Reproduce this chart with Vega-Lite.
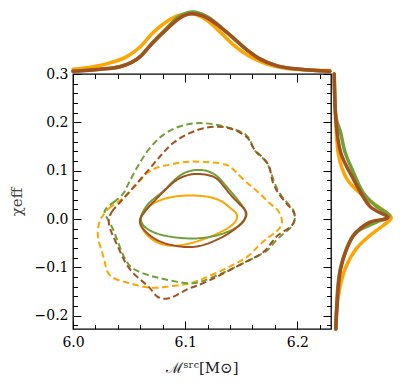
{
  "$schema": "https://vega.github.io/schema/vega-lite/v6.json",
  "padding": {"left": 8, "top": 5, "right": 5, "bottom": 5},
  "spacing": 0,
  "bounds": "flush",
  "config": {"view": {"stroke": null}, "font": "DejaVu Serif"},
  "datasets": {
    "contours": [
      {"r":"run1","lv":"50","i":0,"x":6.059,"y":0.000},{"r":"run1","lv":"50","i":1,"x":6.064,"y":0.0205},{"r":"run1","lv":"50","i":2,"x":6.074,"y":0.037},{"r":"run1","lv":"50","i":3,"x":6.089,"y":0.047},{"r":"run1","lv":"50","i":4,"x":6.104,"y":0.0495},{"r":"run1","lv":"50","i":5,"x":6.121,"y":0.047},{"r":"run1","lv":"50","i":6,"x":6.133,"y":0.038},{"r":"run1","lv":"50","i":7,"x":6.141,"y":0.0205},{"r":"run1","lv":"50","i":8,"x":6.147,"y":0.012},{"r":"run1","lv":"50","i":9,"x":6.146,"y":-0.007},{"r":"run1","lv":"50","i":10,"x":6.135,"y":-0.024},{"r":"run1","lv":"50","i":11,"x":6.121,"y":-0.038},{"r":"run1","lv":"50","i":12,"x":6.109,"y":-0.048},{"r":"run1","lv":"50","i":13,"x":6.095,"y":-0.0555},{"r":"run1","lv":"50","i":14,"x":6.083,"y":-0.0555},{"r":"run1","lv":"50","i":15,"x":6.074,"y":-0.048},{"r":"run1","lv":"50","i":16,"x":6.066,"y":-0.035},{"r":"run1","lv":"50","i":17,"x":6.060,"y":-0.014},
      {"r":"run1","lv":"90","i":0,"x":6.027,"y":0.007},{"r":"run1","lv":"90","i":1,"x":6.030,"y":0.021},{"r":"run1","lv":"90","i":2,"x":6.045,"y":0.041},{"r":"run1","lv":"90","i":3,"x":6.057,"y":0.072},{"r":"run1","lv":"90","i":4,"x":6.066,"y":0.097},{"r":"run1","lv":"90","i":5,"x":6.074,"y":0.107},{"r":"run1","lv":"90","i":6,"x":6.089,"y":0.114},{"r":"run1","lv":"90","i":7,"x":6.104,"y":0.1205},{"r":"run1","lv":"90","i":8,"x":6.124,"y":0.117},{"r":"run1","lv":"90","i":9,"x":6.138,"y":0.114},{"r":"run1","lv":"90","i":10,"x":6.144,"y":0.100},{"r":"run1","lv":"90","i":11,"x":6.153,"y":0.079},{"r":"run1","lv":"90","i":12,"x":6.162,"y":0.062},{"r":"run1","lv":"90","i":13,"x":6.170,"y":0.045},{"r":"run1","lv":"90","i":14,"x":6.177,"y":0.028},{"r":"run1","lv":"90","i":15,"x":6.183,"y":0.0205},{"r":"run1","lv":"90","i":16,"x":6.188,"y":-0.007},{"r":"run1","lv":"90","i":17,"x":6.183,"y":-0.024},{"r":"run1","lv":"90","i":18,"x":6.174,"y":-0.038},{"r":"run1","lv":"90","i":19,"x":6.165,"y":-0.0555},{"r":"run1","lv":"90","i":20,"x":6.156,"y":-0.0795},{"r":"run1","lv":"90","i":21,"x":6.144,"y":-0.093},{"r":"run1","lv":"90","i":22,"x":6.129,"y":-0.111},{"r":"run1","lv":"90","i":23,"x":6.115,"y":-0.124},{"r":"run1","lv":"90","i":24,"x":6.104,"y":-0.135},{"r":"run1","lv":"90","i":25,"x":6.089,"y":-0.138},{"r":"run1","lv":"90","i":26,"x":6.074,"y":-0.144},{"r":"run1","lv":"90","i":27,"x":6.060,"y":-0.1395},{"r":"run1","lv":"90","i":28,"x":6.048,"y":-0.131},{"r":"run1","lv":"90","i":29,"x":6.036,"y":-0.124},{"r":"run1","lv":"90","i":30,"x":6.030,"y":-0.111},{"r":"run1","lv":"90","i":31,"x":6.028,"y":-0.083},{"r":"run1","lv":"90","i":32,"x":6.024,"y":-0.0555},{"r":"run1","lv":"90","i":33,"x":6.021,"y":-0.028},{"r":"run1","lv":"90","i":34,"x":6.024,"y":0.000},
      {"r":"run2","lv":"50","i":0,"x":6.059,"y":0.000},{"r":"run2","lv":"50","i":1,"x":6.064,"y":0.024},{"r":"run2","lv":"50","i":2,"x":6.071,"y":0.041},{"r":"run2","lv":"50","i":3,"x":6.080,"y":0.055},{"r":"run2","lv":"50","i":4,"x":6.088,"y":0.076},{"r":"run2","lv":"50","i":5,"x":6.098,"y":0.0965},{"r":"run2","lv":"50","i":6,"x":6.110,"y":0.103},{"r":"run2","lv":"50","i":7,"x":6.121,"y":0.100},{"r":"run2","lv":"50","i":8,"x":6.129,"y":0.089},{"r":"run2","lv":"50","i":9,"x":6.135,"y":0.072},{"r":"run2","lv":"50","i":10,"x":6.144,"y":0.048},{"r":"run2","lv":"50","i":11,"x":6.150,"y":0.031},{"r":"run2","lv":"50","i":12,"x":6.155,"y":0.014},{"r":"run2","lv":"50","i":13,"x":6.153,"y":-0.007},{"r":"run2","lv":"50","i":14,"x":6.144,"y":-0.021},{"r":"run2","lv":"50","i":15,"x":6.129,"y":-0.035},{"r":"run2","lv":"50","i":16,"x":6.109,"y":-0.042},{"r":"run2","lv":"50","i":17,"x":6.089,"y":-0.038},{"r":"run2","lv":"50","i":18,"x":6.074,"y":-0.031},{"r":"run2","lv":"50","i":19,"x":6.063,"y":-0.017},
      {"r":"run2","lv":"90","i":0,"x":6.028,"y":0.021},{"r":"run2","lv":"90","i":1,"x":6.036,"y":0.034},{"r":"run2","lv":"90","i":2,"x":6.045,"y":0.050},{"r":"run2","lv":"90","i":3,"x":6.049,"y":0.072},{"r":"run2","lv":"90","i":4,"x":6.057,"y":0.107},{"r":"run2","lv":"90","i":5,"x":6.067,"y":0.145},{"r":"run2","lv":"90","i":6,"x":6.080,"y":0.176},{"r":"run2","lv":"90","i":7,"x":6.095,"y":0.193},{"r":"run2","lv":"90","i":8,"x":6.110,"y":0.200},{"r":"run2","lv":"90","i":9,"x":6.127,"y":0.1965},{"r":"run2","lv":"90","i":10,"x":6.144,"y":0.186},{"r":"run2","lv":"90","i":11,"x":6.155,"y":0.176},{"r":"run2","lv":"90","i":12,"x":6.159,"y":0.159},{"r":"run2","lv":"90","i":13,"x":6.161,"y":0.141},{"r":"run2","lv":"90","i":14,"x":6.171,"y":0.124},{"r":"run2","lv":"90","i":15,"x":6.176,"y":0.103},{"r":"run2","lv":"90","i":16,"x":6.179,"y":0.076},{"r":"run2","lv":"90","i":17,"x":6.185,"y":0.048},{"r":"run2","lv":"90","i":18,"x":6.195,"y":0.024},{"r":"run2","lv":"90","i":19,"x":6.198,"y":0.014},{"r":"run2","lv":"90","i":20,"x":6.198,"y":-0.011},{"r":"run2","lv":"90","i":21,"x":6.189,"y":-0.028},{"r":"run2","lv":"90","i":22,"x":6.180,"y":-0.045},{"r":"run2","lv":"90","i":23,"x":6.174,"y":-0.066},{"r":"run2","lv":"90","i":24,"x":6.165,"y":-0.076},{"r":"run2","lv":"90","i":25,"x":6.153,"y":-0.090},{"r":"run2","lv":"90","i":26,"x":6.138,"y":-0.107},{"r":"run2","lv":"90","i":27,"x":6.124,"y":-0.121},{"r":"run2","lv":"90","i":28,"x":6.107,"y":-0.137},{"r":"run2","lv":"90","i":29,"x":6.089,"y":-0.128},{"r":"run2","lv":"90","i":30,"x":6.074,"y":-0.121},{"r":"run2","lv":"90","i":31,"x":6.060,"y":-0.111},{"r":"run2","lv":"90","i":32,"x":6.051,"y":-0.100},{"r":"run2","lv":"90","i":33,"x":6.046,"y":-0.083},{"r":"run2","lv":"90","i":34,"x":6.040,"y":-0.048},{"r":"run2","lv":"90","i":35,"x":6.036,"y":-0.021},{"r":"run2","lv":"90","i":36,"x":6.031,"y":0.000},{"r":"run2","lv":"90","i":37,"x":6.028,"y":0.012},
      {"r":"run3","lv":"50","i":0,"x":6.058,"y":-0.004},{"r":"run3","lv":"50","i":1,"x":6.063,"y":0.012},{"r":"run3","lv":"50","i":2,"x":6.068,"y":0.027},{"r":"run3","lv":"50","i":3,"x":6.080,"y":0.055},{"r":"run3","lv":"50","i":4,"x":6.092,"y":0.083},{"r":"run3","lv":"50","i":5,"x":6.104,"y":0.093},{"r":"run3","lv":"50","i":6,"x":6.113,"y":0.094},{"r":"run3","lv":"50","i":7,"x":6.127,"y":0.089},{"r":"run3","lv":"50","i":8,"x":6.133,"y":0.072},{"r":"run3","lv":"50","i":9,"x":6.141,"y":0.048},{"r":"run3","lv":"50","i":10,"x":6.150,"y":0.027},{"r":"run3","lv":"50","i":11,"x":6.156,"y":0.014},{"r":"run3","lv":"50","i":12,"x":6.153,"y":-0.004},{"r":"run3","lv":"50","i":13,"x":6.141,"y":-0.028},{"r":"run3","lv":"50","i":14,"x":6.127,"y":-0.045},{"r":"run3","lv":"50","i":15,"x":6.109,"y":-0.061},{"r":"run3","lv":"50","i":16,"x":6.089,"y":-0.0555},{"r":"run3","lv":"50","i":17,"x":6.074,"y":-0.045},{"r":"run3","lv":"50","i":18,"x":6.063,"y":-0.024},
      {"r":"run3","lv":"90","i":0,"x":6.033,"y":0.007},{"r":"run3","lv":"90","i":1,"x":6.034,"y":0.014},{"r":"run3","lv":"90","i":2,"x":6.038,"y":0.025},{"r":"run3","lv":"90","i":3,"x":6.043,"y":0.037},{"r":"run3","lv":"90","i":4,"x":6.054,"y":0.066},{"r":"run3","lv":"90","i":5,"x":6.068,"y":0.103},{"r":"run3","lv":"90","i":6,"x":6.079,"y":0.134},{"r":"run3","lv":"90","i":7,"x":6.089,"y":0.159},{"r":"run3","lv":"90","i":8,"x":6.104,"y":0.179},{"r":"run3","lv":"90","i":9,"x":6.118,"y":0.190},{"r":"run3","lv":"90","i":10,"x":6.135,"y":0.193},{"r":"run3","lv":"90","i":11,"x":6.150,"y":0.179},{"r":"run3","lv":"90","i":12,"x":6.158,"y":0.165},{"r":"run3","lv":"90","i":13,"x":6.161,"y":0.141},{"r":"run3","lv":"90","i":14,"x":6.170,"y":0.1275},{"r":"run3","lv":"90","i":15,"x":6.176,"y":0.107},{"r":"run3","lv":"90","i":16,"x":6.177,"y":0.079},{"r":"run3","lv":"90","i":17,"x":6.182,"y":0.055},{"r":"run3","lv":"90","i":18,"x":6.192,"y":0.027},{"r":"run3","lv":"90","i":19,"x":6.198,"y":0.014},{"r":"run3","lv":"90","i":20,"x":6.198,"y":-0.007},{"r":"run3","lv":"90","i":21,"x":6.192,"y":-0.021},{"r":"run3","lv":"90","i":22,"x":6.183,"y":-0.031},{"r":"run3","lv":"90","i":23,"x":6.177,"y":-0.048},{"r":"run3","lv":"90","i":24,"x":6.171,"y":-0.069},{"r":"run3","lv":"90","i":25,"x":6.159,"y":-0.083},{"r":"run3","lv":"90","i":26,"x":6.147,"y":-0.097},{"r":"run3","lv":"90","i":27,"x":6.133,"y":-0.114},{"r":"run3","lv":"90","i":28,"x":6.121,"y":-0.128},{"r":"run3","lv":"90","i":29,"x":6.109,"y":-0.1395},{"r":"run3","lv":"90","i":30,"x":6.101,"y":-0.145},{"r":"run3","lv":"90","i":31,"x":6.092,"y":-0.159},{"r":"run3","lv":"90","i":32,"x":6.083,"y":-0.167},{"r":"run3","lv":"90","i":33,"x":6.074,"y":-0.162},{"r":"run3","lv":"90","i":34,"x":6.070,"y":-0.145},{"r":"run3","lv":"90","i":35,"x":6.063,"y":-0.131},{"r":"run3","lv":"90","i":36,"x":6.054,"y":-0.114},{"r":"run3","lv":"90","i":37,"x":6.046,"y":-0.090},{"r":"run3","lv":"90","i":38,"x":6.040,"y":-0.056},{"r":"run3","lv":"90","i":39,"x":6.034,"y":-0.028},{"r":"run3","lv":"90","i":40,"x":6.031,"y":-0.004}
    ],
    "top": [
      {"r":"run1","x":6.000,"d":0.075},{"r":"run1","x":6.018,"d":0.118},{"r":"run1","x":6.033,"d":0.18},{"r":"run1","x":6.048,"d":0.28},{"r":"run1","x":6.060,"d":0.44},{"r":"run1","x":6.071,"d":0.66},{"r":"run1","x":6.083,"d":0.84},{"r":"run1","x":6.095,"d":0.95},{"r":"run1","x":6.106,"d":0.97},{"r":"run1","x":6.119,"d":0.87},{"r":"run1","x":6.131,"d":0.68},{"r":"run1","x":6.143,"d":0.47},{"r":"run1","x":6.155,"d":0.31},{"r":"run1","x":6.173,"d":0.16},{"r":"run1","x":6.191,"d":0.09},{"r":"run1","x":6.211,"d":0.065},{"r":"run1","x":6.229,"d":0.055},
      {"r":"run2","x":6.000,"d":0.045},{"r":"run2","x":6.024,"d":0.078},{"r":"run2","x":6.042,"d":0.12},{"r":"run2","x":6.060,"d":0.285},{"r":"run2","x":6.071,"d":0.51},{"r":"run2","x":6.083,"d":0.73},{"r":"run2","x":6.095,"d":0.93},{"r":"run2","x":6.107,"d":1.0},{"r":"run2","x":6.119,"d":0.93},{"r":"run2","x":6.131,"d":0.77},{"r":"run2","x":6.143,"d":0.58},{"r":"run2","x":6.155,"d":0.39},{"r":"run2","x":6.167,"d":0.24},{"r":"run2","x":6.182,"d":0.13},{"r":"run2","x":6.202,"d":0.076},{"r":"run2","x":6.229,"d":0.045},
      {"r":"run3","x":6.000,"d":0.045},{"r":"run3","x":6.024,"d":0.076},{"r":"run3","x":6.042,"d":0.118},{"r":"run3","x":6.060,"d":0.28},{"r":"run3","x":6.071,"d":0.50},{"r":"run3","x":6.083,"d":0.71},{"r":"run3","x":6.095,"d":0.90},{"r":"run3","x":6.106,"d":0.97},{"r":"run3","x":6.119,"d":0.91},{"r":"run3","x":6.131,"d":0.76},{"r":"run3","x":6.143,"d":0.58},{"r":"run3","x":6.155,"d":0.39},{"r":"run3","x":6.167,"d":0.24},{"r":"run3","x":6.182,"d":0.13},{"r":"run3","x":6.202,"d":0.076},{"r":"run3","x":6.229,"d":0.045}
    ],
    "right": [
      {"r":"run1","y":0.3,"d":0.05},{"r":"run1","y":0.2,"d":0.075},{"r":"run1","y":0.131,"d":0.12},{"r":"run1","y":0.0826,"d":0.25},{"r":"run1","y":0.048,"d":0.5},{"r":"run1","y":0.024,"d":0.755},{"r":"run1","y":0.0033,"d":0.94},{"r":"run1","y":-0.014,"d":0.81},{"r":"run1","y":-0.035,"d":0.60},{"r":"run1","y":-0.0623,"d":0.39},{"r":"run1","y":-0.097,"d":0.24},{"r":"run1","y":-0.138,"d":0.145},{"r":"run1","y":-0.1865,"d":0.09},{"r":"run1","y":-0.2275,"d":0.075},
      {"r":"run2","y":0.3,"d":0.05},{"r":"run2","y":0.2137,"d":0.075},{"r":"run2","y":0.1793,"d":0.15},{"r":"run2","y":0.138,"d":0.22},{"r":"run2","y":0.0965,"d":0.35},{"r":"run2","y":0.055,"d":0.5},{"r":"run2","y":0.0273,"d":0.70},{"r":"run2","y":0.0066,"d":0.91},{"r":"run2","y":-0.007,"d":0.70},{"r":"run2","y":-0.0277,"d":0.39},{"r":"run2","y":-0.0623,"d":0.24},{"r":"run2","y":-0.1037,"d":0.145},{"r":"run2","y":-0.152,"d":0.1},{"r":"run2","y":-0.2275,"d":0.075},
      {"r":"run3","y":0.3,"d":0.05},{"r":"run3","y":0.2068,"d":0.075},{"r":"run3","y":0.138,"d":0.15},{"r":"run3","y":0.0826,"d":0.35},{"r":"run3","y":0.0273,"d":0.60},{"r":"run3","y":0.0033,"d":0.885},{"r":"run3","y":-0.007,"d":0.60},{"r":"run3","y":-0.0348,"d":0.35},{"r":"run3","y":-0.083,"d":0.19},{"r":"run3","y":-0.1313,"d":0.12},{"r":"run3","y":-0.2275,"d":0.075}
    ]
  },
  "vconcat": [
    {
      "width": 258,
      "height": 69,
      "data": {"name": "top"},
      "mark": {"type": "line", "interpolate": "monotone", "strokeWidth": 3.5, "strokeCap": "round"},
      "encoding": {
        "x": {"field": "x", "type": "quantitative", "scale": {"domain": [6.0, 6.23], "nice": false, "zero": false}, "axis": null},
        "y": {"field": "d", "type": "quantitative", "scale": {"domain": [0, 1.113], "nice": false}, "axis": null},
        "color": {"field": "r", "type": "nominal", "scale": {"domain": ["run1", "run2", "run3"], "range": ["#FFA500", "#6FA03A", "#A3501F"]}, "legend": null}
      }
    },
    {
      "spacing": 0,
      "bounds": "flush",
      "hconcat": [
        {
          "width": 258,
          "height": 255,
          "view": {"stroke": "black", "strokeWidth": 1.3},
          "data": {"name": "contours"},
          "layer": [
            {
              "mark": {"type": "line", "interpolate": "basis-closed", "strokeWidth": 2, "strokeJoin": "round"},
              "encoding": {
                "x": {"field": "x", "type": "quantitative", "scale": {"domain": [6.0, 6.23], "nice": false, "zero": false},
                  "axis": {"orient": "bottom", "values": [6.0, 6.02, 6.04, 6.06, 6.08, 6.1, 6.12, 6.14, 6.16, 6.18, 6.2, 6.22],
                    "labelExpr": "abs(datum.value*10-round(datum.value*10))<0.001 ? format(datum.value,'.1f') : ''",
                    "tickSize": {"condition": {"test": "abs(datum.value*10-round(datum.value*10))<0.001", "value": -8}, "value": -4.5},
                    "labelPadding": 14, "labelFlush": false, "labelOverlap": false, "domain": false, "grid": false,
                    "tickColor": "black", "tickWidth": 1, "labelFont": "DejaVu Serif", "labelFontSize": 14, "labelColor": "black",
                    "title": "ℳˢʳᶜ[M⊙]", "titleFont": "DejaVu Serif", "titleFontSize": 15, "titleFontWeight": "normal", "titleColor": "#222", "titlePadding": 8}},
                "y": {"field": "y", "type": "quantitative", "scale": {"domain": [-0.2275, 0.3], "nice": false, "zero": false},
                  "axis": {"orient": "left", "values": [-0.22, -0.2, -0.18, -0.16, -0.14, -0.12, -0.1, -0.08, -0.06, -0.04, -0.02, 0, 0.02, 0.04, 0.06, 0.08, 0.1, 0.12, 0.14, 0.16, 0.18, 0.2, 0.22, 0.24, 0.26, 0.28, 0.3],
                    "labelExpr": "abs(datum.value*10-round(datum.value*10))<0.001 ? format(datum.value,'.1f') : ''",
                    "tickSize": {"condition": {"test": "abs(datum.value*10-round(datum.value*10))<0.001", "value": -8}, "value": -4.5},
                    "labelPadding": 13, "labelFlush": false, "labelOverlap": false, "domain": false, "grid": false,
                    "tickColor": "black", "tickWidth": 1, "labelFont": "DejaVu Serif", "labelFontSize": 14, "labelColor": "black",
                    "title": "χeff", "titleFont": "DejaVu Serif", "titleFontSize": 15, "titleFontWeight": "normal", "titleColor": "#444", "titlePadding": 10}},
                "color": {"field": "r", "type": "nominal", "scale": {"domain": ["run1", "run2", "run3"], "range": ["#FFA500", "#6FA03A", "#A3501F"]}, "legend": null},
                "strokeDash": {"field": "lv", "type": "nominal", "scale": {"domain": ["50", "90"], "range": [[1, 0], [6.5, 3.5]]}, "legend": null},
                "order": {"field": "i", "type": "quantitative"}
              }
            },
            {
              "mark": {"type": "point", "opacity": 0, "size": 1},
              "encoding": {
                "x": {"field": "x", "type": "quantitative", "scale": {"domain": [6.0, 6.23], "nice": false, "zero": false},
                  "axis": {"orient": "top", "values": [6.0, 6.02, 6.04, 6.06, 6.08, 6.1, 6.12, 6.14, 6.16, 6.18, 6.2, 6.22], "labels": false,
                    "tickSize": {"condition": {"test": "abs(datum.value*10-round(datum.value*10))<0.001", "value": -8}, "value": -4.5},
                    "minExtent": 0, "maxExtent": 0, "offset": 0,
                    "domain": false, "grid": false, "tickColor": "black", "tickWidth": 1, "title": null}},
                "y": {"field": "y", "type": "quantitative", "scale": {"domain": [-0.2275, 0.3], "nice": false, "zero": false},
                  "axis": {"orient": "right", "values": [-0.22, -0.2, -0.18, -0.16, -0.14, -0.12, -0.1, -0.08, -0.06, -0.04, -0.02, 0, 0.02, 0.04, 0.06, 0.08, 0.1, 0.12, 0.14, 0.16, 0.18, 0.2, 0.22, 0.24, 0.26, 0.28, 0.3], "labels": false,
                    "tickSize": {"condition": {"test": "abs(datum.value*10-round(datum.value*10))<0.001", "value": -8}, "value": -4.5},
                    "minExtent": 0, "maxExtent": 0, "offset": 0,
                    "domain": false, "grid": false, "tickColor": "black", "tickWidth": 1, "title": null}}
              }
            }
          ],
          "resolve": {"axis": {"x": "independent", "y": "independent"}}
        },
        {
          "width": 64,
          "height": 255,
          "data": {"name": "right"},
          "mark": {"type": "line", "interpolate": "cardinal", "strokeWidth": 3.5, "strokeCap": "round"},
          "encoding": {
            "x": {"field": "d", "type": "quantitative", "scale": {"domain": [0, 1], "nice": false}, "axis": null},
            "y": {"field": "y", "type": "quantitative", "scale": {"domain": [-0.2275, 0.3], "nice": false, "zero": false}, "axis": null},
            "color": {"field": "r", "type": "nominal", "scale": {"domain": ["run1", "run2", "run3"], "range": ["#FFA500", "#6FA03A", "#A3501F"]}, "legend": null},
            "order": {"field": "y", "type": "quantitative"}
          }
        }
      ]
    }
  ]
}
